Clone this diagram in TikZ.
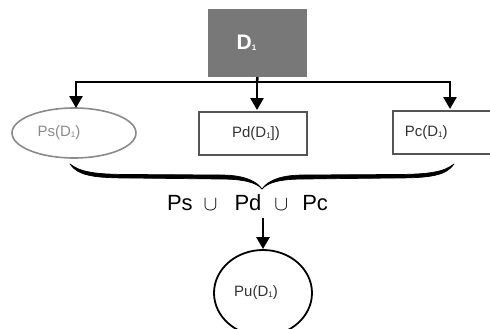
\documentclass[tikz,border=0pt]{standalone}
\usepackage{fontspec}
\setmainfont{Liberation Sans}
\usetikzlibrary{arrows.meta,shapes.geometric}
\definecolor{boxgray}{HTML}{787878}
\definecolor{edgegray}{HTML}{555555}
\definecolor{lightedge}{HTML}{8A8A8A}
\tikzset{
  conn/.style={line width=2.6pt,black},
  arr/.style={conn,-{Triangle[width=13pt,length=12pt]}},
  rbox/.style={draw=edgegray,line width=1.8pt,rectangle,font=\fontsize{15}{17}\selectfont,text=black!80},
  bracehalf/.style={fill=black,draw=black,line width=0.7pt,line join=round},
}
\newcommand{\sub}[1]{\raisebox{-0.1ex}{\fontsize{8}{8}\selectfont #1}}
\newcommand{\padr}[1]{\rule{#1}{0pt}}
\newcommand{\halfbrace}{(-192,164) .. controls (-184,176) and (-167,178) .. (-132,178) -- (-42,179) .. controls (-17,179) and (-5,183) .. (0,189) .. controls (-7,179) and (-22,175) .. (-42,175) -- (-132,174.5) .. controls (-167,174.5) and (-182,172) .. (-192,164) -- cycle}
\begin{document}
\begin{tikzpicture}[x=1pt,y=-1pt]
\useasboundingbox (0,0) rectangle (490,329);
\clip (0,0) rectangle (490,329);
\node[fill=boxgray,minimum width=99pt,minimum height=68pt,inner sep=0pt,text=white,font=\fontsize{21}{23}\selectfont\bfseries] (d1) at (257.5,43) {D\sub{1}\padr{22pt}};
\node[ellipse,draw=lightedge,line width=1.6pt,minimum width=124pt,minimum height=50pt,inner sep=0pt,text=lightedge,font=\fontsize{15}{17}\selectfont] (ps) at (74,133) {Ps(D\sub{1})\padr{30pt}};
\node[rbox,minimum width=108pt,minimum height=43pt,inner sep=0pt] (pd) at (253,133.5) {\padr{6pt}Pd(D\sub{1}])};
\node[rbox,anchor=west,minimum height=43pt,text width=100pt,align=left,inner xsep=12pt,inner ysep=0pt] (pc) at (392,132.5) {Pc(D\sub{1})};
\coordinate (j) at (257,82);
\draw[conn] (d1.south) -- (j);
\draw[arr] (j) -| (76,108);
\draw[arr] (j) -- (257,110);
\draw[arr] (j) -| (450,109);
\begin{scope}[shift={(262,0)}]
  \filldraw[bracehalf] \halfbrace;
  \begin{scope}[xscale=-1]
    \filldraw[bracehalf] \halfbrace;
  \end{scope}
\end{scope}
\node[font=\fontsize{22}{24}\selectfont,inner sep=0pt] (un) at (247.5,203) {Ps\hspace{11pt}$\cup$\hspace{17pt}Pd\hspace{13pt}$\cup$\hspace{14pt}Pc};
\node[ellipse,draw=black,line width=1.8pt,minimum width=98pt,minimum height=86pt,inner sep=0pt,font=\fontsize{15}{17}\selectfont,text=black!80] (pu) at (263,293) {Pu(D\sub{1})\padr{14pt}};
\coordinate (ua) at (263,218);
\draw[arr] (ua) -- (pu.north);
\end{tikzpicture}
\end{document}
